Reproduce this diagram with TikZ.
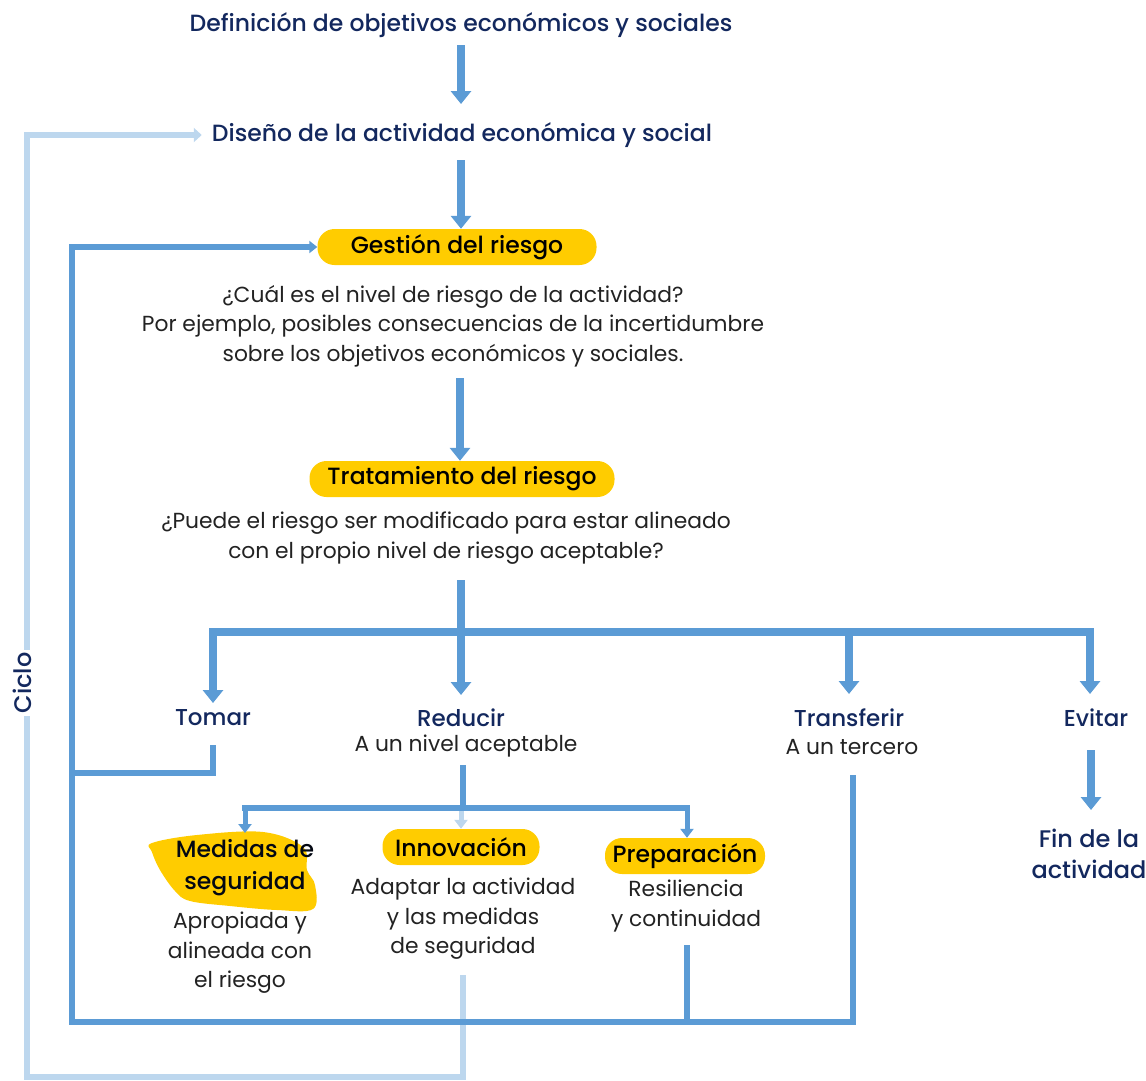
\documentclass[tikz,border=0pt]{standalone}
\usepackage{fontspec}
\setmainfont{Poppins}
\newfontfamily\medfont{Poppins Medium}
\usetikzlibrary{arrows.meta}
\definecolor{navy}{HTML}{13285E}
\definecolor{ablue}{HTML}{5B9BD5}
\definecolor{lblue}{HTML}{BDD7EE}
\definecolor{hyel}{HTML}{FFCC00}
\definecolor{txt}{HTML}{222222}
\begin{document}
\begin{tikzpicture}[x=1pt,y=-1pt,
  ttl/.style={font=\medfont\fontsize{23.5}{28}\selectfont, text=navy, inner sep=0pt, align=center},
  lbl/.style={font=\medfont\fontsize{23}{31}\selectfont, text=navy, inner sep=0pt, align=center},
  body/.style={font=\fontsize{21.8}{29.5}\selectfont, text=txt, inner sep=0pt, align=center},
  pill/.style={fill=hyel, rounded corners=17pt, minimum height=36pt, inner sep=0pt,
     font=\medfont\fontsize{23.5}{28}\selectfont, text=black},
  big/.style={draw=ablue, line width=8pt, -{Triangle[width=20pt,length=13pt]}},
  bar/.style={draw=ablue, line width=8pt},
  loopd/.style={draw=ablue, line width=6pt},
  loopl/.style={draw=lblue, line width=6pt},
  small/.style={draw=ablue, line width=5pt, -{Triangle[width=13pt,length=9pt]}},
]
\useasboundingbox (0,0) rectangle (1146,1080);

% texts
\node[ttl] (d1) at (461,25) {Definición de objetivos económicos y sociales};
\node[ttl] (d2) at (462,135) {Diseño de la actividad económica y social};
\node[pill, minimum width=279pt] (gest) at (457,247) {Gestión del riesgo};
\node[body] (q1) at (453,326) {¿Cuál es el nivel de riesgo de la actividad?\\Por ejemplo, posibles consecuencias de la incertidumbre\\sobre los objetivos económicos y sociales.};
\node[pill, minimum width=305pt] (trat) at (462,479) {Tratamiento del riesgo};
\node[body] (q2) at (446,538) {¿Puede el riesgo ser modificado para estar alineado\\con el propio nivel de riesgo aceptable?};

\node[lbl] (tomar) at (213,718) {Tomar};
\node[lbl] (reducir) at (461,718) {Reducir};
\node[body] (redsub) at (466,746) {A un nivel aceptable};
\node[lbl] (transf) at (849,718) {Transferir};
\node[body] (trsub) at (852,747) {A un tercero};
\node[lbl] (evitar) at (1096,718) {Evitar};
\node[lbl, font=\medfont\fontsize{24}{31}\selectfont] (fin) at (1089,854) {Fin de la\\actividad};

% blob
\fill[hyel] plot[smooth cycle, tension=0.6] coordinates {(152,843) (197,835) (263,832) (303,847) (307,870) (315,885) (313,909) (277,910) (230,906) (190,901) (175,891) (160,870) (152,852)};
\node[lbl, text=black!80!navy, font=\medfont\fontsize{23.5}{32}\selectfont] (medidas) at (245,868) {Medidas de\\seguridad};
\node[body] (medsub) at (240,953) {Apropiada y\\alineada con\\el riesgo};
\node[pill, minimum width=157pt] (inno) at (461,847) {Innovación};
\node[body] (insub) at (463,919) {Adaptar la actividad\\y las medidas\\de seguridad};
\node[pill, minimum width=160pt] (prep) at (685,856) {Preparación};
\node[body] (prsub) at (686,906) {Resiliencia\\y continuidad};

% coordinates
\coordinate (cL) at (72,1022);
\coordinate (cLL) at (27,1077);
\coordinate (prB) at (687,1022);
\coordinate (innB) at (463,975);
\coordinate (redB) at (463,808);
\coordinate (brL) at (245,808);
\coordinate (brR) at (687,808);

% light cycle loop
\draw[loopl, -{Triangle[width=14pt,length=8pt]}] (innB) |- (cLL) |- ([xshift=-10pt]d2.west);
\node[font=\medfont\fontsize{24}{28}\selectfont, text=navy, fill=white, rotate=90, inner sep=3pt] (ciclo) at (22,683) {Ciclo};

% dark loop
\draw[loopd, -{Triangle[width=12pt,length=8pt]}] (853,775) |- (cL) |- (gest.west);
\draw[loopd] (213,745) |- (72,773);
\draw[loopd] (687,945) -- (prB);

% main arrows
\draw[big] (461,45) -- (461,104);
\draw[big] (461,160) -- (461,160 |- gest.north);
\draw[big] (460,378) -- (460,378 |- trat.north);
\draw[big] (461,580) -- (461,695);
\draw[bar] (213,632) -- (1094,632);
\draw[big] (213,628) -- (213,703);
\draw[big] (849,632) -- (849,694);
\draw[big] (1090,628) -- (1090,694);
\draw[big] (1091,750) -- (1091,810);

% reducir branch
\draw[loopd] (463,765) -- (redB);
\draw[draw=ablue, line width=6pt] ([xshift=-3pt]brL) -- ([xshift=3pt]brR);
\draw[small] (brL) -- (245,833);
\draw[small] (brR) -- (brR |- prep.north);
\draw[draw=lblue, line width=5pt, -{Triangle[width=13pt,length=9pt]}] (461,811) -- (461,811 |- inno.north);
\end{tikzpicture}
\end{document}
